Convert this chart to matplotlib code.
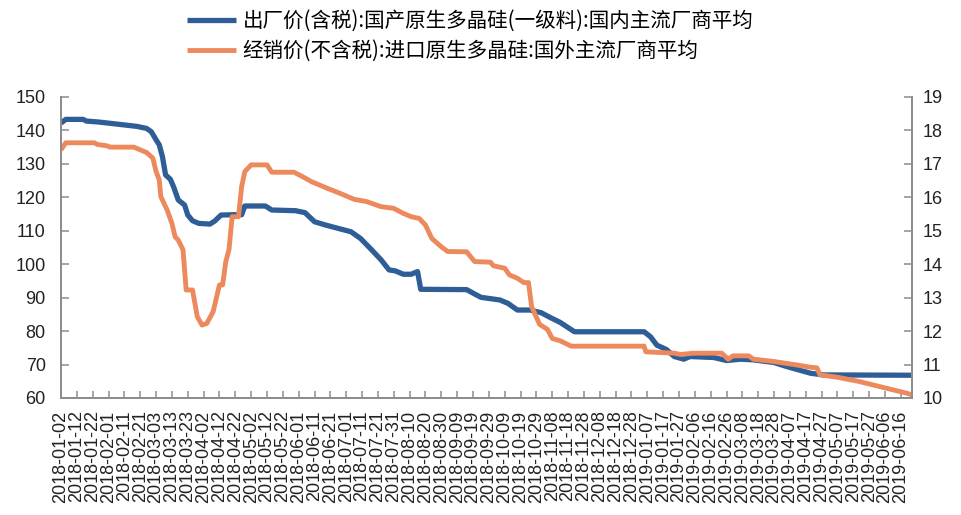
import pandas as pd
import matplotlib
matplotlib.use("Agg")
import matplotlib.pyplot as plt
import matplotlib.dates as mdates

plt.rcParams['font.family'] = ['Liberation Sans', 'Noto Sans CJK SC', 'DejaVu Sans']

# 出厂价(含税):国产原生多晶硅(一级料) -- left axis
dom_dates = ['2018-01-02', '2018-01-05', '2018-01-16', '2018-01-18', '2018-01-26', '2018-02-08',
             '2018-02-19', '2018-02-25', '2018-02-28', '2018-03-03', '2018-03-05', '2018-03-07',
             '2018-03-09', '2018-03-12', '2018-03-14', '2018-03-17', '2018-03-21', '2018-03-23',
             '2018-03-26', '2018-03-30', '2018-04-06', '2018-04-09', '2018-04-13', '2018-04-22',
             '2018-04-26', '2018-04-28', '2018-05-11', '2018-05-15', '2018-05-30', '2018-06-05',
             '2018-06-11', '2018-06-18', '2018-06-26', '2018-07-04', '2018-07-10', '2018-07-16',
             '2018-07-23', '2018-07-28', '2018-08-01', '2018-08-06', '2018-08-11', '2018-08-15',
             '2018-08-17', '2018-09-15', '2018-09-20', '2018-09-24', '2018-10-06', '2018-10-11',
             '2018-10-17', '2018-10-25', '2018-11-01', '2018-11-07', '2018-11-13', '2018-11-22',
             '2019-01-05', '2019-01-09', '2019-01-13', '2019-01-19', '2019-01-24', '2019-01-30',
             '2019-02-03', '2019-02-18', '2019-02-26', '2019-03-07', '2019-03-15', '2019-03-28',
             '2019-04-05', '2019-04-14', '2019-04-20', '2019-04-28', '2019-06-23']
dom_price = [142.2, 143.3, 143.3, 142.8, 142.5, 141.8,
             141.2, 140.6, 139.6, 137.2, 135.7, 132.2,
             126.7, 125.4, 123.2, 119.2, 117.7, 114.7,
             113.0, 112.2, 112.0, 112.9, 114.7, 114.8,
             114.8, 117.4, 117.4, 116.2, 116.0, 115.4,
             112.7, 111.7, 110.7, 109.7, 107.7, 104.8,
             101.3, 98.3, 98.0, 97.0, 97.0, 97.8,
             92.5, 92.4, 91.1, 90.1, 89.3, 88.3,
             86.3, 86.3, 85.5, 84.0, 82.6, 79.8,
             79.8, 78.3, 75.8, 74.5, 72.4, 71.6,
             72.4, 72.1, 71.2, 71.6, 71.4, 70.6,
             69.4, 68.2, 67.4, 66.9, 66.8]

# 经销价(不含税):进口原生多晶硅 -- right axis
imp_dates = ['2018-01-02', '2018-01-05', '2018-01-23', '2018-01-25', '2018-01-31', '2018-02-02',
             '2018-02-17', '2018-02-21', '2018-02-25', '2018-03-01', '2018-03-03', '2018-03-05',
             '2018-03-06', '2018-03-08', '2018-03-10', '2018-03-13', '2018-03-15', '2018-03-17',
             '2018-03-20', '2018-03-22', '2018-03-26', '2018-03-29', '2018-04-01', '2018-04-04',
             '2018-04-08', '2018-04-12', '2018-04-14', '2018-04-16', '2018-04-18', '2018-04-20',
             '2018-04-24', '2018-04-26', '2018-04-28', '2018-05-02', '2018-05-12', '2018-05-15',
             '2018-05-29', '2018-06-03', '2018-06-09', '2018-06-19', '2018-06-27', '2018-07-06',
             '2018-07-14', '2018-07-23', '2018-07-31', '2018-08-06', '2018-08-11', '2018-08-16',
             '2018-08-20', '2018-08-24', '2018-08-30', '2018-09-03', '2018-09-15', '2018-09-20',
             '2018-09-30', '2018-10-02', '2018-10-09', '2018-10-12', '2018-10-17', '2018-10-21',
             '2018-10-24', '2018-10-26', '2018-10-31', '2018-11-05', '2018-11-08', '2018-11-13',
             '2018-11-20', '2019-01-05', '2019-01-06', '2019-01-24', '2019-01-28', '2019-02-05',
             '2019-02-23', '2019-02-27', '2019-03-02', '2019-03-12', '2019-03-15', '2019-03-28',
             '2019-04-11', '2019-04-20', '2019-04-24', '2019-04-26', '2019-05-07', '2019-05-21',
             '2019-06-07', '2019-06-20', '2019-06-23']
imp_price = [17.42, 17.63, 17.63, 17.58, 17.54, 17.50,
             17.50, 17.42, 17.34, 17.17, 16.77, 16.52,
             16.02, 15.82, 15.62, 15.22, 14.82, 14.72,
             14.43, 13.23, 13.23, 12.43, 12.18, 12.23,
             12.58, 13.38, 13.38, 14.08, 14.43, 15.42,
             15.42, 16.32, 16.77, 16.97, 16.97, 16.75,
             16.75, 16.63, 16.47, 16.27, 16.12, 15.94,
             15.87, 15.72, 15.67, 15.52, 15.42, 15.37,
             15.17, 14.77, 14.52, 14.38, 14.37, 14.08,
             14.06, 13.95, 13.88, 13.68, 13.58, 13.45,
             13.45, 12.73, 12.20, 12.05, 11.78, 11.71,
             11.55, 11.55, 11.38, 11.34, 11.30, 11.34,
             11.34, 11.16, 11.26, 11.26, 11.16, 11.09,
             10.99, 10.92, 10.90, 10.69, 10.62, 10.49,
             10.29, 10.14, 10.09]

dom_label = '出厂价(含税):国产原生多晶硅(一级料):国内主流厂商平均'
imp_label = '经销价(不含税):进口原生多晶硅:国外主流厂商平均'

blue = '#2F5E97'
orange = '#EC8A5E'
axis_grey = '#8C8C8C'

fig = plt.figure(figsize=(9.62, 5.15), dpi=100)
ax = fig.add_axes([0.0634, 0.2272, 0.8846, 0.5845])
ax2 = ax.twinx()

l1, = ax.plot(pd.to_datetime(dom_dates), dom_price, color=blue, lw=3.8,
              solid_joinstyle='round', solid_capstyle='butt', label=dom_label)
l2, = ax2.plot(pd.to_datetime(imp_dates), imp_price, color=orange, lw=3.5,
               solid_joinstyle='round', solid_capstyle='butt', label=imp_label)

ax.set_xlim(pd.Timestamp('2018-01-02'), pd.Timestamp('2019-06-23'))
ax.set_ylim(60, 150)
ax.set_yticks(range(60, 151, 10))
ax2.set_ylim(10, 19)
ax2.set_yticks(range(10, 20))

xt = pd.date_range('2018-01-02', '2019-06-16', freq='10D')
ax.set_xticks(xt)
ax.xaxis.set_major_formatter(mdates.DateFormatter('%Y-%m-%d'))
ax.tick_params(axis='x', direction='in', length=5, width=1.1, color=axis_grey,
               labelsize=13, labelrotation=90, pad=9, labelcolor='#222222')
ax.tick_params(axis='y', direction='in', length=6, width=1.1, color=axis_grey,
               labelsize=13, pad=11, labelcolor='#222222')
ax2.tick_params(axis='y', direction='in', length=6, width=1.1, color=axis_grey,
                labelsize=13, pad=8, labelcolor='#222222')

for a in (ax, ax2):
    a.spines['top'].set_visible(False)
    for s in ('left', 'right', 'bottom'):
        a.spines[s].set_color(axis_grey)
        a.spines[s].set_linewidth(1.3)

fig.legend([l1, l2], [dom_label, imp_label], loc='upper left',
           bbox_to_anchor=(187 / 962, 1 - 10 / 515), frameon=False,
           borderpad=0, borderaxespad=0, handlelength=2.4, handletextpad=0.3,
           labelspacing=0.4, prop={'family': ['Noto Sans CJK SC'], 'size': 14.8})

fig.savefig('out.png', dpi=100)
